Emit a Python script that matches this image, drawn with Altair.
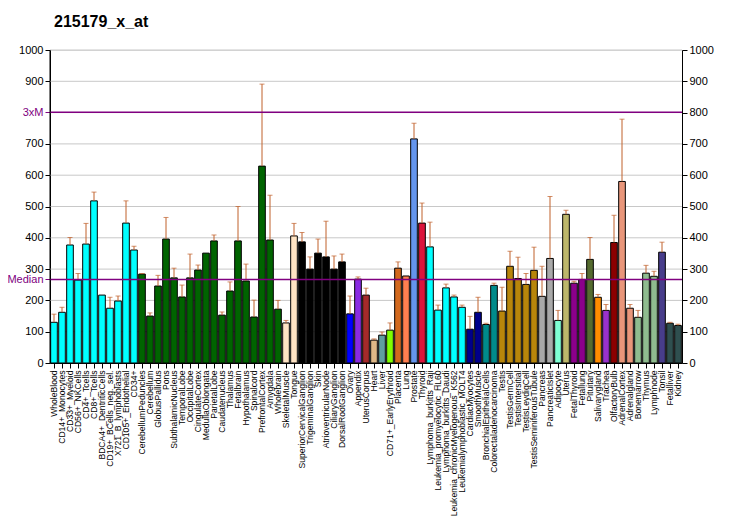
import altair as alt
import pandas as pd

title_text = "215179_x_at"

names = [
    "WholeBlood", "CD14+_Monocytes", "CD33+_Myeloid", "CD56+_NKCells", "CD4+_Tcells",
    "CD8+_Tcells", "BDCA4+_DentriticCells", "CD19+_BCells_neg._sel.", "X721_B_lymphoblasts",
    "CD105+_Endothelial", "CD34+", "CerebellumPeduncles", "Cerebellum", "GlobusPallidus",
    "Pons", "SubthalamicNucleus", "TemporalLobe", "OccipitalLobe", "CingulateCortex",
    "MedullaOblongata", "ParietalLobe", "Caudatenucleus", "Thalamus", "Fetalbrain",
    "Hypothalamus", "Spinalcord", "PrefrontalCortex", "Amygdala", "Wholebrain",
    "SkeletalMuscle", "Tongue", "SuperiorCervicalGanglion", "TrigeminalGanglion", "Skin",
    "AtrioventricularNode", "CiliaryGanglion", "DorsalRootGanglion", "Ovary", "Appendix",
    "UterusCorpus", "Heart", "Liver", "CD71+_EarlyErythroid", "Placenta", "Lung",
    "Prostate", "Thyroid", "Lymphoma_burkitts_Raji", "Leukemia_promyelocytic_HL60",
    "Lymphoma_burkitts_Daudi", "Leukemia_chronicMyelogenous_K562",
    "Leukemialymphoblastic_MOLT4", "CardiacMyocytes", "SmoothMuscle",
    "BronchialEpithelialCells", "Colorectaladenocarcinoma", "Testis", "TestisGermCell",
    "TestisIntersitial", "TestisLeydigCell", "TestisSeminiferousTubule", "Pancreas",
    "PancreaticIslet", "Adipocyte", "Uterus", "FetalThyroid", "Fetallung", "Pituitary",
    "Salivarygland", "Trachea", "OlfactoryBulb", "AdrenalCortex", "Adrenalgland",
    "Bonemarrow", "Thymus", "Lymphnode", "Tonsil", "Fetalliver", "Kidney",
]

values = [
    130, 162, 377, 265, 380, 518, 217, 175, 198, 447,
    361, 284, 150, 246, 396, 272, 211, 272, 297, 351,
    390, 153, 230, 390, 262, 147, 629, 393, 172, 128,
    406, 387, 300, 351, 339, 300, 323, 157, 268, 217,
    73, 89, 105, 303, 278, 716, 447, 371, 169, 240,
    211, 178, 108, 162, 123, 248, 166, 309, 270, 251,
    296, 213, 334, 136, 475, 255, 267, 331, 210, 168,
    385, 580, 175, 146, 287, 277, 354, 127, 120,
]

error_tops = [
    156, 178, 401, 286, 446, 546, None, 210, 214, 518,
    373, 286, 160, 280, 465, 303, 249, 348, 313, None,
    409, 163, 259, 500, 316, 201, 891, 536, 200, 136,
    446, 417, 339, 396, 453, 342, 348, 214, 275, 239,
    77, 99, 128, 323, None, 766, 511, 450, 185, 252,
    217, 185, 149, 210, 127, 255, 242, 357, 338, 286,
    370, 309, 532, 168, 488, 261, 286, 401, 219, 187,
    472, 779, 187, 168, 312, 293, 386, 130, 124,
]

colors = (
    ["#00FFFF"] * 11 + ["#006400"] * 18 + ["#FFE4C4"] * 2 + ["#000000"] * 6
    + ["#0000FF", "#8A2BE2", "#A52A2A", "#DEB887", "#5F9EA0", "#7FFF00",
       "#D2691E", "#FF7F50", "#6495ED", "#DC143C"]
    + ["#00FFFF"] * 5 + ["#00008B"] * 2 + ["#008B8B"] * 2 + ["#B8860B"] * 5
    + ["#A9A9A9"] * 2 + ["#7FFFD4", "#BDB76B"] + ["#8B008B"] * 2
    + ["#556B2F", "#FF8C00", "#9932CC", "#8B0000"] + ["#E9967A"] * 2
    + ["#8FBC8F"] * 3 + ["#483D8B"] + ["#2F4F4F"] * 2
)

grid_values = [100, 200, 300, 400, 500, 600, 700, 800, 900, 1000]
axis_values = [0, 100, 200, 300, 400, 500, 600, 700, 900, 1000]
median_value = 267
triple_median = 801
ref_labels = ["Median", "3xM"]

df = pd.DataFrame({"name": names, "value": values, "err": error_tops, "color": colors})
err_df = df.dropna(subset=["err"])
grid_df = pd.DataFrame({"g": grid_values})
ref_df = pd.DataFrame({"r": [median_value, triple_median], "label": ref_labels})
title_df = pd.DataFrame({"t": [title_text]})

PURPLE = "#800080"
ERRC = "#C0602A"
FONT = "Liberation Sans, Arial"

xenc = alt.X(
    "name:N", sort=names, title=None,
    scale=alt.Scale(paddingInner=0.17, paddingOuter=0.085),
    axis=alt.Axis(labelAngle=-90, labelFont=FONT, labelFontSize=8.6, labelColor="black",
                  labelPadding=2, labelOverlap=False, labelLimit=250, tickSize=5,
                  tickColor="black", domainColor="black", grid=False),
)

yscale = alt.Scale(domain=[0, 1000], nice=False, zero=True)
cond_test = f"datum.value == {triple_median} || datum.value == {median_value}"
left_axis = alt.Axis(
    orient="left",
    values=axis_values + [median_value, triple_median],
    format="d",
    labelExpr=f"datum.value == {triple_median} ? '3xM' : (datum.value == {median_value} ? 'Median' : datum.label)",
    labelColor={"condition": {"test": cond_test, "value": PURPLE}, "value": "black"},
    tickColor={"condition": {"test": cond_test, "value": PURPLE}, "value": "black"},
    labelFont=FONT, labelFontSize=11, labelPadding=2, labelOverlap=False,
    tickSize=5, domain=True, domainColor="black", domainWidth=1,
    grid=False, title=None,
)

grid = alt.Chart(grid_df).mark_rule(color="#C8C8C8", strokeWidth=1).encode(
    y=alt.Y("g:Q", scale=yscale, axis=left_axis)
)

left_line = alt.Chart(title_df).mark_rule(color="black", strokeWidth=1).encode(
    x=alt.value(0), y=alt.value(0), y2=alt.value(313)
)

bars = alt.Chart(df).mark_bar(stroke="black", strokeWidth=1).encode(
    x=xenc,
    y=alt.Y("value:Q", scale=yscale, axis=None),
    color=alt.Color("color:N", scale=None),
)

err_rule = alt.Chart(err_df).mark_rule(color=ERRC, strokeWidth=1).encode(
    x=xenc,
    y=alt.Y("value:Q", scale=yscale, axis=None),
    y2="err:Q",
)

err_cap = alt.Chart(err_df).mark_tick(color=ERRC, size=5, thickness=1).encode(
    x=xenc,
    y=alt.Y("err:Q", scale=yscale, axis=None),
)

ref_lines = alt.Chart(ref_df).mark_rule(color=PURPLE, strokeWidth=1.5).encode(
    y=alt.Y("r:Q", scale=yscale, axis=None)
)

title_mark = alt.Chart(title_df).mark_text(
    align="left", baseline="alphabetic", fontSize=16, fontWeight="bold",
    font=FONT, color="black",
).encode(x=alt.value(4), y=alt.value(-23), text="t:N")

right = alt.Chart(grid_df).mark_rule(opacity=0).encode(
    y=alt.Y("g:Q", scale=yscale,
            axis=alt.Axis(orient="right", values=[0] + grid_values, format="d", title=None,
                          labelFont=FONT, labelFontSize=11, labelOverlap=False,
                          labelPadding=2, tickSize=5, tickColor="black",
                          domainColor="black", labelColor="black", grid=False))
)

chart = alt.layer(grid, bars, err_rule, err_cap, ref_lines, left_line, title_mark, right).resolve_scale(
    y="independent"
).properties(
    width=632, height=313,
    autosize=alt.AutoSizeParams(type="none"),
    padding={"left": 42, "top": 42, "right": 36, "bottom": 156},
).configure_view(stroke=None).configure(background="white")

chart.save("out.html", embed_options={"renderer": "svg", "actions": False})
